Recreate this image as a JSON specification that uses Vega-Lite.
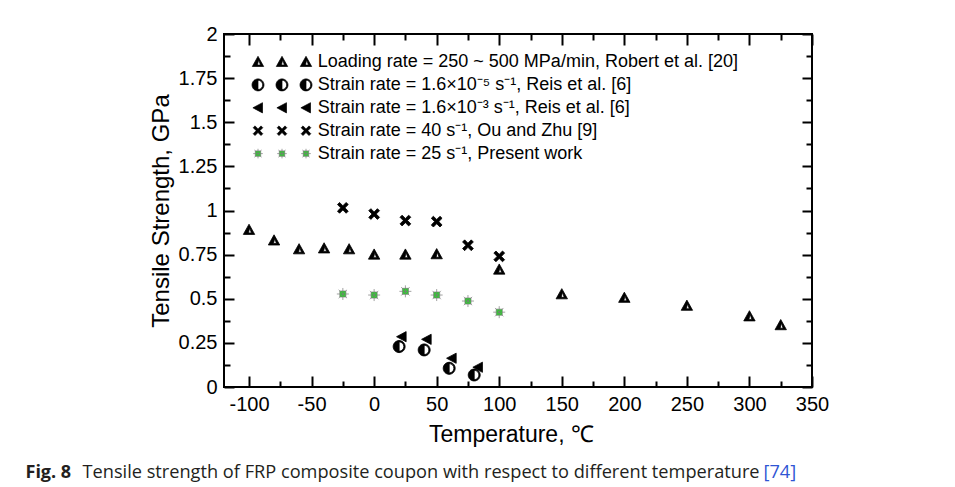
{
  "$schema": "https://vega.github.io/schema/vega-lite/v6.json",
  "width": 588,
  "height": 353,
  "autosize": "none",
  "padding": {"left": 224, "top": 34, "right": 143, "bottom": 100},
  "background": "white",
  "config": {
    "view": {"stroke": "black", "strokeWidth": 2},
    "font": "Liberation Sans",
    "axis": {"domain": false, "grid": false, "tickColor": "black", "tickWidth": 2, "labelColor": "black", "titleColor": "black", "labelFont": "Liberation Sans", "titleFont": "Liberation Sans", "labelFontSize": 20, "titleFontWeight": "normal", "titleLimit": 2000, "labelOverlap": false, "labelFlush": false}
  },
  "data": {
    "values": [
      {"series": "robert", "temp": -100, "strength": 0.89},
      {"series": "robert", "temp": -80, "strength": 0.83},
      {"series": "robert", "temp": -60, "strength": 0.78},
      {"series": "robert", "temp": -40, "strength": 0.785},
      {"series": "robert", "temp": -20, "strength": 0.78},
      {"series": "robert", "temp": 0, "strength": 0.75},
      {"series": "robert", "temp": 25, "strength": 0.75},
      {"series": "robert", "temp": 50, "strength": 0.752},
      {"series": "robert", "temp": 100, "strength": 0.665},
      {"series": "robert", "temp": 150, "strength": 0.525},
      {"series": "robert", "temp": 200, "strength": 0.505},
      {"series": "robert", "temp": 250, "strength": 0.46},
      {"series": "robert", "temp": 300, "strength": 0.4},
      {"series": "robert", "temp": 325, "strength": 0.35},
      {"series": "reis5", "temp": 20, "strength": 0.229},
      {"series": "reis5", "temp": 40, "strength": 0.21},
      {"series": "reis5", "temp": 60, "strength": 0.106},
      {"series": "reis5", "temp": 80, "strength": 0.068},
      {"series": "reis3", "temp": 22, "strength": 0.285},
      {"series": "reis3", "temp": 42, "strength": 0.27},
      {"series": "reis3", "temp": 62, "strength": 0.163},
      {"series": "reis3", "temp": 83, "strength": 0.112},
      {"series": "ou", "temp": -25, "strength": 1.015},
      {"series": "ou", "temp": 0, "strength": 0.98},
      {"series": "ou", "temp": 25, "strength": 0.943},
      {"series": "ou", "temp": 50, "strength": 0.937},
      {"series": "ou", "temp": 75, "strength": 0.803},
      {"series": "ou", "temp": 100, "strength": 0.74},
      {"series": "present", "temp": -25, "strength": 0.527},
      {"series": "present", "temp": 0, "strength": 0.521},
      {"series": "present", "temp": 25, "strength": 0.542},
      {"series": "present", "temp": 50, "strength": 0.521},
      {"series": "present", "temp": 75, "strength": 0.487},
      {"series": "present", "temp": 100, "strength": 0.424}
    ]
  },
  "layer": [
    {
      "transform": [{"filter": "datum.series == 'robert'"}],
      "mark": {"type": "point", "filled": true, "fill": "black", "stroke": "black", "strokeWidth": 0.8, "opacity": 1, "size": 144, "shape": "M0,-0.95L0.95,0.75L-0.95,0.75ZM0.12,-0.35L-0.1,0.5L0.4,0.5Z"},
      "encoding": {
        "x": {"field": "temp", "type": "quantitative", "scale": {"domain": [-120, 350], "nice": false, "zero": false},
          "axis": {"orient": "bottom", "values": [-100, -50, 0, 50, 100, 150, 200, 250, 300, 350], "ticks": false, "labels": true, "labelExpr": "'' + datum.value", "labelPadding": 7,
            "title": "Temperature, ℃", "titleFontSize": 23, "titleX": 287, "titleY": 54, "titleAlign": "center", "titleBaseline": "alphabetic"}},
        "y": {"field": "strength", "type": "quantitative", "scale": {"domain": [0, 2], "nice": false, "zero": false},
          "axis": {"orient": "left", "values": [0, 0.25, 0.5, 0.75, 1, 1.25, 1.5, 1.75, 2], "ticks": false, "labels": true, "labelExpr": "'' + datum.value", "labelPadding": 7,
            "title": "Tensile Strength, GPa", "titleFontSize": 24, "titleX": -56, "titleY": 176.5, "titleAngle": -90, "titleAlign": "center", "titleBaseline": "alphabetic"}}
      }
    },
    {
      "transform": [{"filter": "datum.series == 'reis5'"}],
      "mark": {"type": "point", "filled": true, "fill": "black", "stroke": "black", "strokeWidth": 0.8, "opacity": 1, "size": 144, "shape": "M0,-1A1,1,0,0,0,0,1ZM0,-1A1,1,0,0,1,0,1L0,0.78A0.78,0.78,0,0,0,0,-0.78Z"},
      "encoding": {
        "x": {"field": "temp", "type": "quantitative", "scale": {"domain": [-120, 350], "nice": false, "zero": false},
          "axis": {"orient": "bottom", "offset": -11, "values": [-100, -50, 0, 50, 100, 150, 200, 250, 300, 350], "tickSize": 11, "labels": false,
            "title": "Tensile strength of FRP composite coupon with respect to different temperature", "titleFont": "Open Sans", "titleFontSize": 18.2, "titleColor": "#231f20", "titleX": -142, "titleY": 101, "titleAlign": "left", "titleBaseline": "alphabetic"}},
        "y": {"field": "strength", "type": "quantitative", "scale": {"domain": [0, 2], "nice": false, "zero": false},
          "axis": {"orient": "left", "offset": -10, "values": [0, 0.25, 0.5, 0.75, 1, 1.25, 1.5, 1.75, 2], "tickSize": 10, "labels": false, "title": null}}
      }
    },
    {
      "transform": [{"filter": "datum.series == 'reis3'"}],
      "mark": {"type": "point", "filled": true, "fill": "black", "stroke": "black", "strokeWidth": 0.8, "opacity": 1, "size": 144, "shape": "M-0.85,0L0.75,-0.85L0.75,0.85Z"},
      "encoding": {
        "x": {"field": "temp", "type": "quantitative", "scale": {"domain": [-120, 350], "nice": false, "zero": false},
          "axis": {"orient": "bottom", "offset": -6, "values": [-75, -25, 25, 75, 125, 175, 225, 275, 325], "tickSize": 6, "labels": false,
            "title": "Fig. 8", "titleFont": "Open Sans", "titleFontWeight": "bold", "titleFontSize": 18, "titleColor": "#231f20", "titleX": -199, "titleY": 96, "titleAlign": "left", "titleBaseline": "alphabetic"}},
        "y": {"field": "strength", "type": "quantitative", "scale": {"domain": [0, 2], "nice": false, "zero": false},
          "axis": {"orient": "left", "offset": -6, "values": [0.125, 0.375, 0.625, 0.875, 1.125, 1.375, 1.625, 1.875], "tickSize": 6, "labels": false, "title": null}}
      }
    },
    {
      "transform": [{"filter": "datum.series == 'ou'"}],
      "mark": {"type": "point", "filled": true, "fill": "black", "stroke": "black", "strokeWidth": 0.8, "opacity": 1, "size": 144, "shape": "M-0.9,-0.55L-0.55,-0.9L0,-0.35L0.55,-0.9L0.9,-0.55L0.35,0L0.9,0.55L0.55,0.9L0,0.35L-0.55,0.9L-0.9,0.55L-0.35,0Z"},
      "encoding": {
        "x": {"field": "temp", "type": "quantitative", "scale": {"domain": [-120, 350], "nice": false, "zero": false},
          "axis": {"orient": "top", "offset": -11, "values": [-100, -50, 0, 50, 100, 150, 200, 250, 300, 350], "tickSize": 11, "labels": false,
            "title": "[74]", "titleFont": "Open Sans", "titleFontSize": 18.2, "titleColor": "#2f55d4", "titleX": 539, "titleY": 432, "titleAlign": "left", "titleBaseline": "alphabetic"}},
        "y": {"field": "strength", "type": "quantitative", "scale": {"domain": [0, 2], "nice": false, "zero": false},
          "axis": {"orient": "right", "offset": -10, "values": [0, 0.25, 0.5, 0.75, 1, 1.25, 1.5, 1.75, 2], "tickSize": 10, "labels": false, "title": null}}
      }
    },
    {
      "transform": [{"filter": "datum.series == 'present'"}],
      "mark": {"type": "point", "filled": true, "fill": "#19e619", "stroke": "#7a7a7a", "strokeWidth": 0.7, "opacity": 1, "size": 144, "shape": "M-1,0L1,0M0,-1L0,1M-0.7,-0.7L0.7,0.7M-0.7,0.7L0.7,-0.7M-0.5,-0.5L0.5,-0.5L0.5,0.5L-0.5,0.5Z"},
      "encoding": {
        "x": {"field": "temp", "type": "quantitative", "scale": {"domain": [-120, 350], "nice": false, "zero": false},
          "axis": {"orient": "top", "offset": -6, "values": [-75, -25, 25, 75, 125, 175, 225, 275, 325], "tickSize": 6, "labels": false, "title": null}},
        "y": {"field": "strength", "type": "quantitative", "scale": {"domain": [0, 2], "nice": false, "zero": false},
          "axis": {"orient": "right", "offset": -6, "values": [0.125, 0.375, 0.625, 0.875, 1.125, 1.375, 1.625, 1.875], "tickSize": 6, "labels": false, "title": null}}
      }
    },
    {
      "transform": [{"filter": "false"}],
      "mark": {"type": "point", "filled": true, "opacity": 1, "size": 144, "strokeWidth": 0.8},
      "encoding": {
        "x": {"field": "temp", "type": "quantitative", "scale": {"domain": [-120, 350], "nice": false, "zero": false}, "axis": null},
        "y": {"field": "strength", "type": "quantitative", "scale": {"domain": [0, 2], "nice": false, "zero": false}, "axis": null},
        "shape": {"field": "series", "type": "nominal",
          "scale": {"domain": ["robert", "reis5", "reis3", "ou", "present"],
            "range": [
              "M0,-0.95L0.95,0.75L-0.95,0.75ZM0.12,-0.35L-0.1,0.5L0.4,0.5ZM4,-0.95L4.95,0.75L3.05,0.75ZM4.12,-0.35L3.9,0.5L4.4,0.5ZM8,-0.95L8.95,0.75L7.05,0.75ZM8.12,-0.35L7.9,0.5L8.4,0.5Z",
              "M0,-1A1,1,0,0,0,0,1ZM0,-1A1,1,0,0,1,0,1L0,0.78A0.78,0.78,0,0,0,0,-0.78ZM4,-1A1,1,0,0,0,4,1ZM4,-1A1,1,0,0,1,4,1L4,0.78A0.78,0.78,0,0,0,4,-0.78ZM8,-1A1,1,0,0,0,8,1ZM8,-1A1,1,0,0,1,8,1L8,0.78A0.78,0.78,0,0,0,8,-0.78Z",
              "M-0.85,0L0.75,-0.85L0.75,0.85ZM3.15,0L4.75,-0.85L4.75,0.85ZM7.15,0L8.75,-0.85L8.75,0.85Z",
              "M-0.8,-0.5L-0.5,-0.8L0,-0.3L0.5,-0.8L0.8,-0.5L0.3,0L0.8,0.5L0.5,0.8L0,0.3L-0.5,0.8L-0.8,0.5L-0.3,0ZM3.2,-0.5L3.5,-0.8L4,-0.3L4.5,-0.8L4.8,-0.5L4.3,0L4.8,0.5L4.5,0.8L4,0.3L3.5,0.8L3.2,0.5L3.7,0ZM7.2,-0.5L7.5,-0.8L8,-0.3L8.5,-0.8L8.8,-0.5L8.3,0L8.8,0.5L8.5,0.8L8,0.3L7.5,0.8L7.2,0.5L7.7,0Z",
              "M-0.8,0L0.8,0M0,-0.8L0,0.8M-0.6,-0.6L0.6,0.6M-0.6,0.6L0.6,-0.6M-0.45,-0.45L0.45,-0.45L0.45,0.45L-0.45,0.45ZM3.2,0L4.8,0M4,-0.8L4,0.8M3.4,-0.6L4.6,0.6M3.4,0.6L4.6,-0.6M3.55,-0.45L4.45,-0.45L4.45,0.45L3.55,0.45ZM7.2,0L8.8,0M8,-0.8L8,0.8M7.4,-0.6L8.6,0.6M7.4,0.6L8.6,-0.6M7.55,-0.45L8.45,-0.45L8.45,0.45L7.55,0.45Z"
            ]},
          "legend": {"orient": "none", "legendX": 25, "legendY": 19, "title": null, "padding": 0, "labelFont": "Liberation Sans", "labelFontSize": 18, "labelColor": "black", "labelLimit": 700, "labelOffset": 50.7, "symbolSize": 144, "symbolStrokeWidth": 0.7, "rowPadding": 4.9,
            "labelExpr": "datum.value == 'robert' ? 'Loading rate = 250 ~ 500 MPa/min, Robert et al. [20]' : datum.value == 'reis5' ? 'Strain rate = 1.6×10⁻⁵ s⁻¹, Reis et al. [6]' : datum.value == 'reis3' ? 'Strain rate = 1.6×10⁻³ s⁻¹, Reis et al. [6]' : datum.value == 'ou' ? 'Strain rate = 40 s⁻¹, Ou and Zhu [9]' : 'Strain rate = 25 s⁻¹, Present work'"}},
        "fill": {"field": "series", "type": "nominal",
          "scale": {"domain": ["robert", "reis5", "reis3", "ou", "present"], "range": ["black", "black", "black", "black", "#19e619"]}},
        "stroke": {"field": "series", "type": "nominal",
          "scale": {"domain": ["robert", "reis5", "reis3", "ou", "present"], "range": ["black", "black", "black", "black", "#7a7a7a"]}}
      }
    }
  ],
  "resolve": {"axis": {"x": "independent", "y": "independent"}}
}
